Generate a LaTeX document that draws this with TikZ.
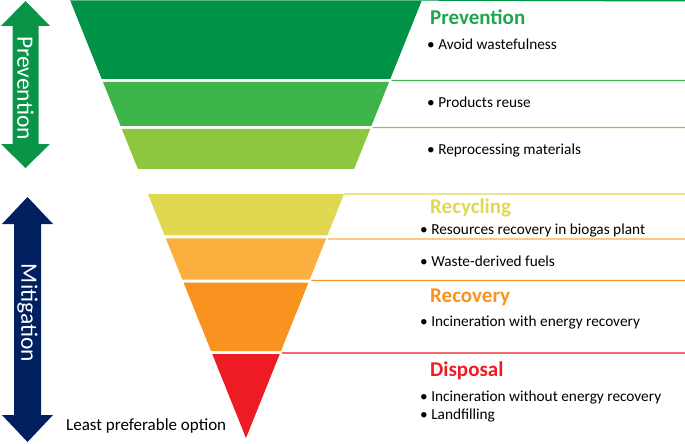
\documentclass[tikz,border=0pt]{standalone}
\usepackage{fontspec}
\setmainfont{Carlito}
\usetikzlibrary{calc}
\definecolor{cA}{HTML}{009245}
\definecolor{cB}{HTML}{3DB54B}
\definecolor{cC}{HTML}{8DC63F}
\definecolor{cD}{HTML}{E1D852}
\definecolor{cE}{HTML}{FBAF3F}
\definecolor{cF}{HTML}{F7931E}
\definecolor{cG}{HTML}{ED1C24}
\definecolor{cNavy}{HTML}{002060}
\definecolor{cHead}{HTML}{1FA64A}
\definecolor{cArrG}{HTML}{0A9447}
\tikzset{
  head/.style={font=\fontsize{21}{23}\selectfont\bfseries, inner sep=0pt, anchor=base west},
  item/.style={font=\fontsize{15.3}{17}\selectfont, inner sep=0pt, anchor=base west, text=black},
  side/.style={font=\fontsize{23.5}{26}\selectfont, inner sep=0pt, text=white, rotate=-90},
  rule/.style={line width=1.4pt},
}
\newcommand{\band}[3]{% color, top y, bottom y
  \fill[#1] ($(TL)!{#2/438}!(A)$) -- ($(TR)!{#2/438}!(A)$) -- ($(TR)!{#3/438}!(A)$) -- ($(TL)!{#3/438}!(A)$) -- cycle;}
\newcommand{\sepline}[2]{% color, y
  \draw[rule,#1] ($(TR)!{#2/438}!(A)+(2,0)$) -- (685,#2);}
\begin{document}
\begin{tikzpicture}[x=1pt,y=-1pt]
\useasboundingbox (0,0) rectangle (685,444);
\coordinate (TL) at (70,0);
\coordinate (TR) at (422,0);
\coordinate (A) at (246,438);
% funnel bands
\band{cA}{0.5}{79}
\band{cB}{82}{126}
\band{cC}{129}{169}
\band{cD}{194}{235.5}
\band{cE}{238.5}{279.5}
\band{cF}{282.5}{351}
\fill[cG] ($(TL)!{354/438}!(A)$) -- ($(TR)!{354/438}!(A)$) -- (A) -- cycle;
% rules
\draw[rule,cA] (TR) -- (685,0.8);
\sepline{cB}{80.5}
\sepline{cC}{127.5}
\draw[rule,cD] ($(TR)!{194/438}!(A)$) -- (685,194);
\sepline{cE}{239}
\sepline{cF}{280.5}
\sepline{cG}{353}
% side arrows
\fill[cArrG] (25.5,1) -- (50,26) -- (38.5,26) -- (38.5,144) -- (50,144) -- (25.5,168) -- (1,144) -- (12.5,144) -- (12.5,26) -- (1,26) -- cycle;
\node[side] (aprev) at (25.5,88) {Prevention};
\fill[cNavy] (27.5,197) -- (53,224) -- (41,224) -- (41,415) -- (53,415) -- (27.5,442) -- (2,415) -- (14,415) -- (14,224) -- (2,224) -- cycle;
\node[side] (amit) at (27.5,313) {Mitigation};
% texts
\node[head,text=cHead] (hprev) at (430,25) {Prevention};
\node[item] (t1) at (427,50) {\textbullet\ Avoid wastefulness};
\node[item] (t2) at (427,107.5) {\textbullet\ Products reuse};
\node[item] (t3) at (427,154) {\textbullet\ Reprocessing materials};
\node[head,text=cD] (hrec) at (430,213) {Recycling};
\node[item] (t4) at (420,234) {\textbullet\ Resources recovery in biogas plant};
\node[item] (t5) at (420,266.5) {\textbullet\ Waste-derived fuels};
\node[head,text=cF] (hrcv) at (430,302) {Recovery};
\node[item] (t6) at (420,326) {\textbullet\ Incineration with energy recovery};
\node[head,text=cG] (hdis) at (430,376) {Disposal};
\node[item] (t7) at (420,401) {\textbullet\ Incineration without energy recovery};
\node[item] (t8) at (420,419) {\textbullet\ Landfilling};
\node[font=\fontsize{17}{19}\selectfont, inner sep=0pt, anchor=base west] (least) at (66,430.5) {Least preferable option};
\end{tikzpicture}
\end{document}
